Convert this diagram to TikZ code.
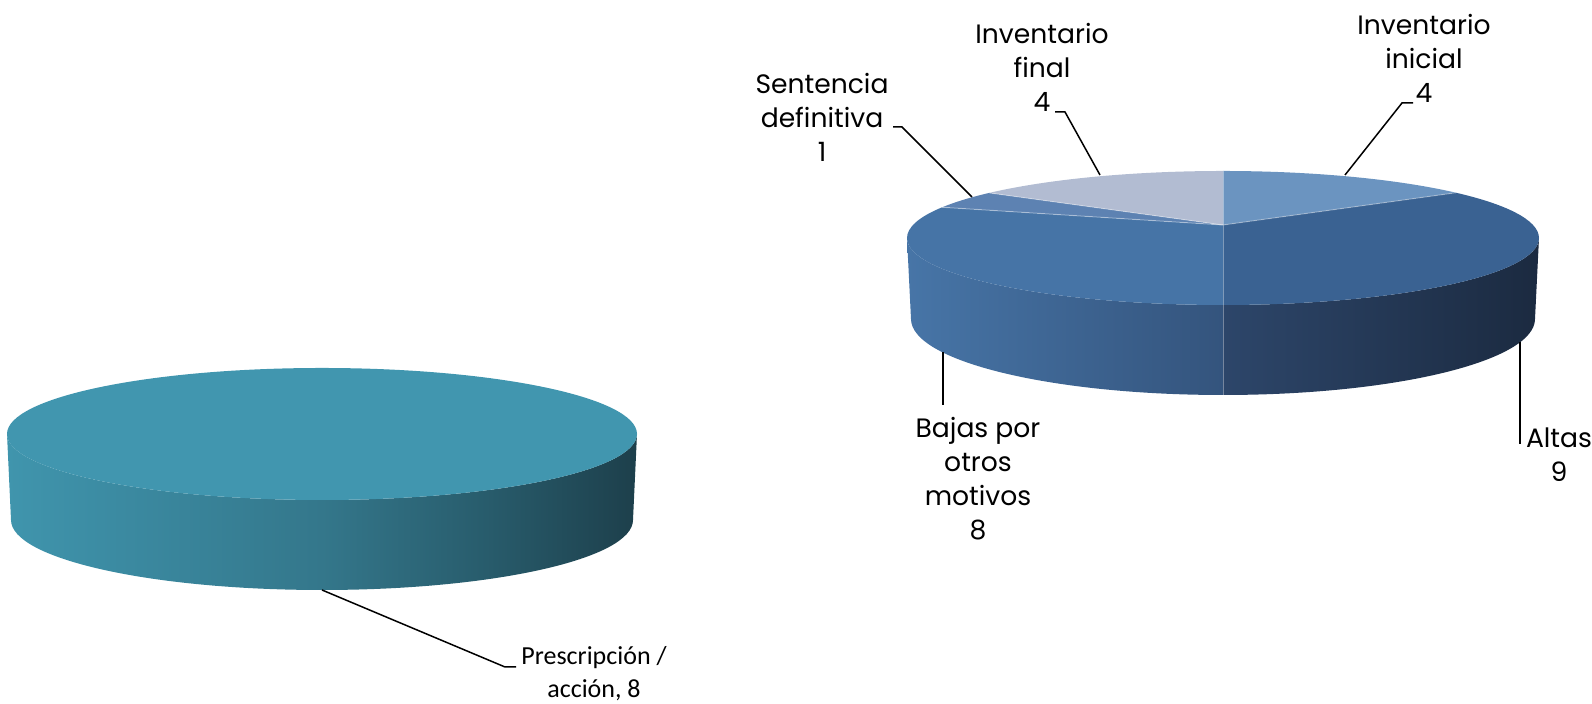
\documentclass[tikz,border=0pt]{standalone}
\usepackage{fontspec}
\setmainfont{Poppins}
\newfontfamily\calibrifont{Carlito}
\usetikzlibrary{calc}
\definecolor{tealtop}{RGB}{65,150,175}
\definecolor{tealA}{RGB}{64,149,173}
\definecolor{tealAB}{RGB}{59,138,161}
\definecolor{tealB}{RGB}{52,119,139}
\definecolor{tealC}{RGB}{40,92,108}
\definecolor{tealD}{RGB}{29,63,75}
\definecolor{bajastop}{RGB}{70,116,166}
\definecolor{altastop}{RGB}{58,98,146}
\definecolor{inicialtop}{RGB}{107,148,192}
\definecolor{finaltop}{RGB}{178,188,210}
\definecolor{sentenciatop}{RGB}{93,130,178}
\definecolor{bajaswallA}{RGB}{71,117,167}
\definecolor{bajaswallB}{RGB}{52,84,125}
\definecolor{altaswallA}{RGB}{45,70,106}
\definecolor{altaswallB}{RGB}{27,42,64}
\pgfdeclarehorizontalshading{tealwall}{100bp}{color(0bp)=(tealA); color(25bp)=(tealA); color(34bp)=(tealAB); color(50bp)=(tealB); color(63bp)=(tealC); color(75bp)=(tealD); color(100bp)=(tealD)}

\begin{document}
\begin{tikzpicture}[x=0.5pt,y=0.5pt, every node/.style={font=\fontsize{13.3}{17}\selectfont,align=center,inner sep=0pt}]
    \tikzset{leader/.style={draw=black,line width=0.75pt}}
    \tikzset{seam/.style={draw=white,draw opacity=0.35,line width=0.5pt}}
    \tikzset{clabel/.style={font=\calibrifont\fontsize{13}{16.5}\selectfont}}
    \useasboundingbox (0,0) rectangle (1592,704);

    % Prescripcion pie
    \coordinate (lc) at (322,270);
    \shade[shading=tealwall] (7,270) -- (11,184) arc[start angle=180,end angle=360,x radius=311,y radius=70]
        -- (637,270) arc[start angle=0,end angle=-180,x radius=315,y radius=66] -- cycle;
    \fill[tealtop] (lc) ellipse [x radius=315,y radius=66];

    \coordinate (prescTip) at (322,114);
    \coordinate (prescBend) at (505,37);
    \coordinate (prescEnd) at (516,37);
    \node[clabel,anchor=base] (prescLbl) at (594,6) {Prescripción /\\acción, 8};
    \draw[leader] (prescTip) -- (prescBend) -- (prescEnd);

    % Movimientos pie
    \coordinate (rc) at (1223,466);
    \coordinate (rv) at (1223,479);
    \shade[left color=bajaswallA,right color=bajaswallB] (907,466) -- (911,385) arc[start angle=180,end angle=270,x radius=312,y radius=76]
        -- (1223,399) arc[start angle=270,end angle=180,x radius=316,y radius=67] -- cycle;
    \shade[left color=altaswallA,right color=altaswallB] (1223,399) -- (1223,309) arc[start angle=270,end angle=360,x radius=312,y radius=76]
        -- (1539,466) arc[start angle=0,end angle=-90,x radius=316,y radius=67] -- cycle;
    \draw[seam] (1223,399) -- (1223,309);

    \fill[inicialtop] (rv) -- ($(rc)+(90:316 and 67)$) arc[start angle=90,end angle=42.5,x radius=316,y radius=67] -- cycle;
    \fill[altastop] (rv) -- ($(rc)+(42.5:316 and 67)$) arc[start angle=42.5,end angle=-90,x radius=316,y radius=67] -- cycle;
    \fill[bajastop] (rv) -- ($(rc)+(-90:316 and 67)$) arc[start angle=-90,end angle=-207.3,x radius=316,y radius=67] -- cycle;
    \fill[sentenciatop] (rv) -- ($(rc)+(152.7:316 and 67)$) arc[start angle=152.7,end angle=137.7,x radius=316,y radius=67] -- cycle;
    \fill[finaltop] (rv) -- ($(rc)+(137.7:316 and 67)$) arc[start angle=137.7,end angle=90,x radius=316,y radius=67] -- cycle;
    \foreach \a in {90,42.5,-90,152.7,137.7}
        \draw[seam] (rv) -- ($(rc)+(\a:316 and 67)$);

    \node[anchor=base] (sentLbl) at (822,542) {Sentencia\\definitiva\\1};
    \node[anchor=base] (finalLbl) at (1042,592) {Inventario\\final\\4};
    \node[anchor=base] (inicLbl) at (1424,601) {Inventario\\inicial\\4};
    \node[anchor=base] (bajasLbl) at (978,164) {Bajas por\\otros\\motivos\\8};
    \node[anchor=base] (altasLbl) at (1559,222) {Altas\\9};

    \coordinate (sentTip) at (972,507);
    \coordinate (sentBend) at (902,577);
    \coordinate (sentEnd) at (893,577);
    \draw[leader] (sentTip) -- (sentBend) -- (sentEnd);
    \coordinate (finalTip) at (1100,529);
    \coordinate (finalBend) at (1065,592);
    \coordinate (finalEnd) at (1055,592);
    \draw[leader] (finalTip) -- (finalBend) -- (finalEnd);
    \coordinate (inicTip) at (1345,529);
    \coordinate (inicBend) at (1402,601);
    \coordinate (inicEnd) at (1413,601);
    \draw[leader] (inicTip) -- (inicBend) -- (inicEnd);
    \coordinate (bajasTip) at (943,352);
    \coordinate (bajasEnd) at (943,299);
    \draw[leader] (bajasTip) -- (bajasEnd);
    \coordinate (altasTip) at (1520,362);
    \coordinate (altasEnd) at (1520,260);
    \draw[leader] (altasTip) -- (altasEnd);
\end{tikzpicture}
\end{document}
